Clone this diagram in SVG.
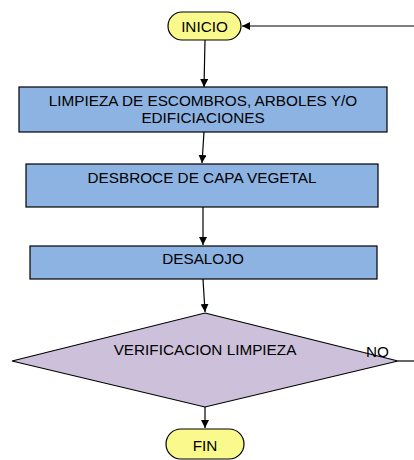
<svg xmlns="http://www.w3.org/2000/svg" width="414" height="460" viewBox="0 0 414 460">
<defs>
<style>
text{font-family:"Liberation Sans",Arial,sans-serif;font-size:15.3px;fill:#000;text-anchor:middle}
.term{fill:#FAFA8C;stroke:#000;stroke-width:1.2}
.proc{fill:#8DB3E2;stroke:#000;stroke-width:1.2}
.dec{fill:#CCC0DA;stroke:#000;stroke-width:1.2}
.conn line,.conn path{stroke:#000;stroke-width:1.2;fill:none}
</style>
<marker id="arr" viewBox="0 0 10 10" refX="10" refY="5" markerWidth="8" markerHeight="8" markerUnits="userSpaceOnUse" orient="auto">
<path d="M0,0 L10,5 L0,10 z" fill="#000"/>
</marker>
</defs>
<rect width="414" height="460" fill="#fff"/>
<g id="connectors" class="conn">
<line x1="414" y1="26" x2="242" y2="26" marker-end="url(#arr)"/>
<line x1="205" y1="40" x2="204" y2="87" marker-end="url(#arr)"/>
<line x1="204" y1="132" x2="202" y2="163" marker-end="url(#arr)"/>
<line x1="203" y1="207" x2="203" y2="245" marker-end="url(#arr)"/>
<line x1="203" y1="279" x2="205" y2="312" marker-end="url(#arr)"/>
<line x1="205" y1="407" x2="205" y2="428" marker-end="url(#arr)"/>
<line x1="398" y1="361" x2="414" y2="361"/>
</g>
<g id="inicio">
<rect class="term" x="168" y="12" width="73" height="28" rx="14"/>
<text x="204.5" y="32">INICIO</text>
</g>
<g id="limpieza">
<rect class="proc" x="19" y="87" width="368" height="45"/>
<text x="203" y="105.5">LIMPIEZA DE ESCOMBROS, ARBOLES Y/O</text>
<text x="203" y="122.5">EDIFICIACIONES</text>
</g>
<g id="desbroce">
<rect class="proc" x="26" y="164" width="352" height="43"/>
<text x="202" y="182.5">DESBROCE DE CAPA VEGETAL</text>
</g>
<g id="desalojo">
<rect class="proc" x="30" y="246" width="347" height="33"/>
<text x="203" y="263.5">DESALOJO</text>
</g>
<g id="verificacion">
<polygon class="dec" points="205,313 398,361 205,407 12,361"/>
<text x="205" y="354.5">VERIFICACION LIMPIEZA</text>
<text x="377.5" y="356.5">NO</text>
</g>
<g id="fin">
<rect class="term" x="166" y="429" width="78" height="30" rx="15"/>
<text x="205" y="450.5">FIN</text>
</g>
</svg>
